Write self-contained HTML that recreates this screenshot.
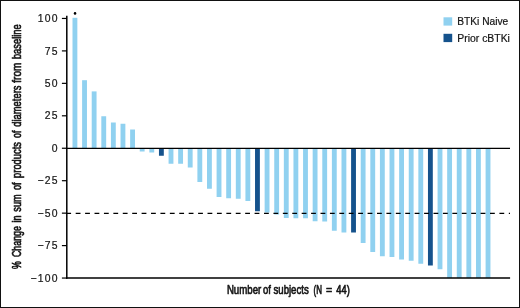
<!DOCTYPE html>
<html><head><meta charset="utf-8"><title>Waterfall</title>
<style>
html,body{margin:0;padding:0;background:#fff;}
body{width:520px;height:308px;overflow:hidden;position:relative;}
svg{position:absolute;left:0;top:0;display:block;will-change:transform;}
text{font-family:"Liberation Sans",sans-serif;fill:#151515;}
.yl{font-size:10.4px;letter-spacing:1.25px;stroke:#151515;stroke-width:0.2px;}
.lg{font-size:10.2px;stroke:#151515;stroke-width:0.2px;}
.ttl{font-size:12.4px;stroke:#151515;stroke-width:0.6px;vector-effect:non-scaling-stroke;stroke-linejoin:round;}
</style></head><body>
<svg width="520" height="308" viewBox="0 0 520 308">
<rect x="0" y="0" width="520" height="308" fill="#fff"/>
<rect x="72.50" y="17.80" width="4.85" height="130.60" fill="#90d1f0"/>
<rect x="82.11" y="80.20" width="4.85" height="68.20" fill="#90d1f0"/>
<rect x="91.71" y="91.40" width="4.85" height="57.00" fill="#90d1f0"/>
<rect x="101.32" y="116.25" width="4.85" height="32.15" fill="#90d1f0"/>
<rect x="110.93" y="122.50" width="4.85" height="25.90" fill="#90d1f0"/>
<rect x="120.53" y="123.75" width="4.85" height="24.65" fill="#90d1f0"/>
<rect x="130.14" y="129.50" width="4.85" height="18.90" fill="#90d1f0"/>
<rect x="139.75" y="148.40" width="4.85" height="3.10" fill="#90d1f0"/>
<rect x="149.36" y="148.40" width="4.85" height="4.10" fill="#90d1f0"/>
<rect x="158.96" y="148.40" width="4.85" height="7.35" fill="#15528c"/>
<rect x="168.57" y="148.40" width="4.85" height="15.35" fill="#90d1f0"/>
<rect x="178.18" y="148.40" width="4.85" height="15.35" fill="#90d1f0"/>
<rect x="187.78" y="148.40" width="4.85" height="19.10" fill="#90d1f0"/>
<rect x="197.39" y="148.40" width="4.85" height="33.60" fill="#90d1f0"/>
<rect x="207.00" y="148.40" width="4.85" height="40.35" fill="#90d1f0"/>
<rect x="216.60" y="148.40" width="4.85" height="48.60" fill="#90d1f0"/>
<rect x="226.21" y="148.40" width="4.85" height="49.85" fill="#90d1f0"/>
<rect x="235.82" y="148.40" width="4.85" height="50.35" fill="#90d1f0"/>
<rect x="245.43" y="148.40" width="4.85" height="52.60" fill="#90d1f0"/>
<rect x="255.03" y="148.40" width="4.85" height="62.85" fill="#15528c"/>
<rect x="264.64" y="148.40" width="4.85" height="64.10" fill="#90d1f0"/>
<rect x="274.25" y="148.40" width="4.85" height="66.10" fill="#90d1f0"/>
<rect x="283.85" y="148.40" width="4.85" height="69.60" fill="#90d1f0"/>
<rect x="293.46" y="148.40" width="4.85" height="69.85" fill="#90d1f0"/>
<rect x="303.07" y="148.40" width="4.85" height="69.85" fill="#90d1f0"/>
<rect x="312.67" y="148.40" width="4.85" height="72.85" fill="#90d1f0"/>
<rect x="322.28" y="148.40" width="4.85" height="73.10" fill="#90d1f0"/>
<rect x="331.89" y="148.40" width="4.85" height="82.35" fill="#90d1f0"/>
<rect x="341.50" y="148.40" width="4.85" height="84.10" fill="#90d1f0"/>
<rect x="351.10" y="148.40" width="4.85" height="84.10" fill="#15528c"/>
<rect x="360.71" y="148.40" width="4.85" height="94.60" fill="#90d1f0"/>
<rect x="370.32" y="148.40" width="4.85" height="103.60" fill="#90d1f0"/>
<rect x="379.92" y="148.40" width="4.85" height="107.85" fill="#90d1f0"/>
<rect x="389.53" y="148.40" width="4.85" height="108.60" fill="#90d1f0"/>
<rect x="399.14" y="148.40" width="4.85" height="111.10" fill="#90d1f0"/>
<rect x="408.75" y="148.40" width="4.85" height="112.35" fill="#90d1f0"/>
<rect x="418.35" y="148.40" width="4.85" height="115.35" fill="#90d1f0"/>
<rect x="427.96" y="148.40" width="4.85" height="117.10" fill="#15528c"/>
<rect x="437.57" y="148.40" width="4.85" height="120.85" fill="#90d1f0"/>
<rect x="447.17" y="148.40" width="4.85" height="129.60" fill="#90d1f0"/>
<rect x="456.78" y="148.40" width="4.85" height="129.60" fill="#90d1f0"/>
<rect x="466.39" y="148.40" width="4.85" height="129.60" fill="#90d1f0"/>
<rect x="475.99" y="148.40" width="4.85" height="129.60" fill="#90d1f0"/>
<rect x="485.60" y="148.40" width="4.85" height="129.60" fill="#90d1f0"/>
<line x1="66.8" y1="15.85" x2="66.8" y2="278.75" stroke="#000" stroke-width="1.5"/>
<line x1="66.05" y1="278" x2="510.1" y2="278" stroke="#000" stroke-width="1.45"/>
<line x1="66.1" y1="148.4" x2="510" y2="148.4" stroke="#000" stroke-width="1.2"/>
<line x1="66.28" y1="213.4" x2="510" y2="213.4" stroke="#000" stroke-width="1.2" stroke-dasharray="4.8 4.616"/>
<line x1="61.9" y1="18.45" x2="67" y2="18.45" stroke="#000" stroke-width="1.2"/>
<line x1="61.9" y1="50.90" x2="67" y2="50.90" stroke="#000" stroke-width="1.2"/>
<line x1="61.9" y1="83.35" x2="67" y2="83.35" stroke="#000" stroke-width="1.2"/>
<line x1="61.9" y1="115.80" x2="67" y2="115.80" stroke="#000" stroke-width="1.2"/>
<line x1="61.9" y1="148.25" x2="67" y2="148.25" stroke="#000" stroke-width="1.2"/>
<line x1="61.9" y1="180.70" x2="67" y2="180.70" stroke="#000" stroke-width="1.2"/>
<line x1="61.9" y1="213.15" x2="67" y2="213.15" stroke="#000" stroke-width="1.2"/>
<line x1="61.9" y1="245.60" x2="67" y2="245.60" stroke="#000" stroke-width="1.2"/>
<line x1="61.9" y1="278.05" x2="67" y2="278.05" stroke="#000" stroke-width="1.2"/>
<text x="58.9" y="22.05" text-anchor="end" class="yl">100</text>
<text x="58.9" y="54.50" text-anchor="end" class="yl">75</text>
<text x="58.9" y="86.95" text-anchor="end" class="yl">50</text>
<text x="58.9" y="119.40" text-anchor="end" class="yl">25</text>
<text x="58.9" y="151.85" text-anchor="end" class="yl">0</text>
<text x="58.9" y="184.30" text-anchor="end" class="yl">−25</text>
<text x="58.9" y="216.75" text-anchor="end" class="yl">−50</text>
<text x="58.9" y="249.20" text-anchor="end" class="yl">−75</text>
<text x="58.9" y="281.65" text-anchor="end" class="yl">−100</text>
<circle cx="75.05" cy="13.4" r="1.3" fill="#000"/>
<rect x="443.5" y="17.3" width="8.7" height="8.3" fill="#90d1f0"/>
<rect x="443.5" y="33.8" width="8.7" height="8.3" fill="#15528c"/>
<text x="457.3" y="24.9" class="lg">BTKi Naive</text>
<text x="457.3" y="41.6" class="lg" textLength="52.6" lengthAdjust="spacingAndGlyphs">Prior cBTKi</text>
<text transform="translate(226.90,294) scale(0.7788,1)" class="ttl">Number</text>
<text transform="translate(263.10,294) scale(0.7621,1)" class="ttl">of</text>
<text transform="translate(273.50,294) scale(0.7750,1)" class="ttl">subjects</text>
<text transform="translate(313.50,294) scale(0.6421,1)" class="ttl">(N</text>
<text transform="translate(326.00,294) scale(0.8631,1)" class="ttl">=</text>
<text transform="translate(336.25,294) scale(0.7534,1)" class="ttl">44)</text>
<text transform="translate(21.2,268.9) rotate(-90) translate(0.00,0) scale(0.7076,1)" class="ttl">%</text>
<text transform="translate(21.2,268.9) rotate(-90) translate(11.90,0) scale(0.7114,1)" class="ttl">Change</text>
<text transform="translate(21.2,268.9) rotate(-90) translate(46.30,0) scale(0.7256,1)" class="ttl">in</text>
<text transform="translate(21.2,268.9) rotate(-90) translate(57.20,0) scale(0.7386,1)" class="ttl">sum</text>
<text transform="translate(21.2,268.9) rotate(-90) translate(78.90,0) scale(0.7428,1)" class="ttl">of</text>
<text transform="translate(21.2,268.9) rotate(-90) translate(91.00,0) scale(0.7528,1)" class="ttl">products</text>
<text transform="translate(21.2,268.9) rotate(-90) translate(130.90,0) scale(0.7138,1)" class="ttl">of</text>
<text transform="translate(21.2,268.9) rotate(-90) translate(142.20,0) scale(0.7567,1)" class="ttl">diameters</text>
<text transform="translate(21.2,268.9) rotate(-90) translate(186.20,0) scale(0.8065,1)" class="ttl">from</text>
<text transform="translate(21.2,268.9) rotate(-90) translate(209.80,0) scale(0.7556,1)" class="ttl">baseline</text>
<rect x="0.5" y="0.5" width="519" height="307" fill="none" stroke="#111" stroke-width="1"/>
</svg>
</body></html>
